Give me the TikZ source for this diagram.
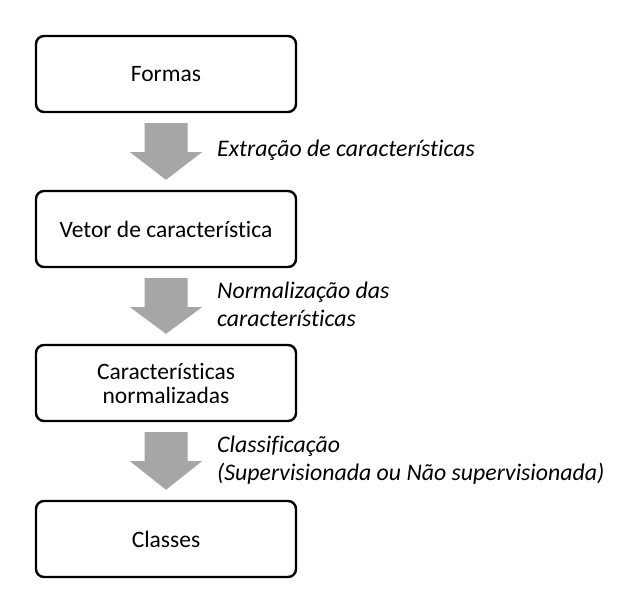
\documentclass[tikz,border=0pt]{standalone}
\usepackage{fontspec}
\setmainfont{Carlito}[Ligatures={NoCommon}]
\usetikzlibrary{calc}
\definecolor{arrowgray}{RGB}{166,166,166}
\tikzset{
  stepbox/.style={draw=black, line width=2.4bp, rounded corners=8bp, minimum width=260bp, minimum height=76bp, inner sep=0pt, align=center, font=\fontsize{23.5bp}{24bp}\selectfont},
  steplabel/.style={anchor=west, inner sep=0pt, align=left, font=\fontsize{23.8bp}{28bp}\selectfont\itshape},
}
\newcommand{\blockarrow}[2]{%
  \fill[arrowgray] ($(#1.south)+(-21.5bp,-10bp)$) -- ($(#1.south)+(21.5bp,-10bp)$) -- ($(#1.south)+(21.5bp,-39bp)$) -- ($(#1.south)+(36bp,-39bp)$) -- ($(#2.north)+(0,10bp)$) -- ($(#1.south)+(-36bp,-39bp)$) -- ($(#1.south)+(-21.5bp,-39bp)$) -- cycle;}
\begin{document}
\begin{tikzpicture}[x=1bp,y=-1bp]
\useasboundingbox[fill=white] (0,0) rectangle (641,613);
\node[stepbox] (b1) at (166,74) {Formas};
\node[stepbox] (b2) at (166,229) {Vetor de característica};
\node[stepbox] (b3) at (166,383) {Características\\normalizadas};
\node[stepbox] (b4) at (166,539) {Classes};
\blockarrow{b1}{b2}
\blockarrow{b2}{b3}
\blockarrow{b3}{b4}
\node[steplabel] (l1) at (217,150) {Extração de características};
\node[steplabel] (l2) at (217,304) {Normalização das\\características};
\node[steplabel] (l3) at (217,460) {Classificação\\(Supervisionada ou Não supervisionada)};
\end{tikzpicture}
\end{document}
